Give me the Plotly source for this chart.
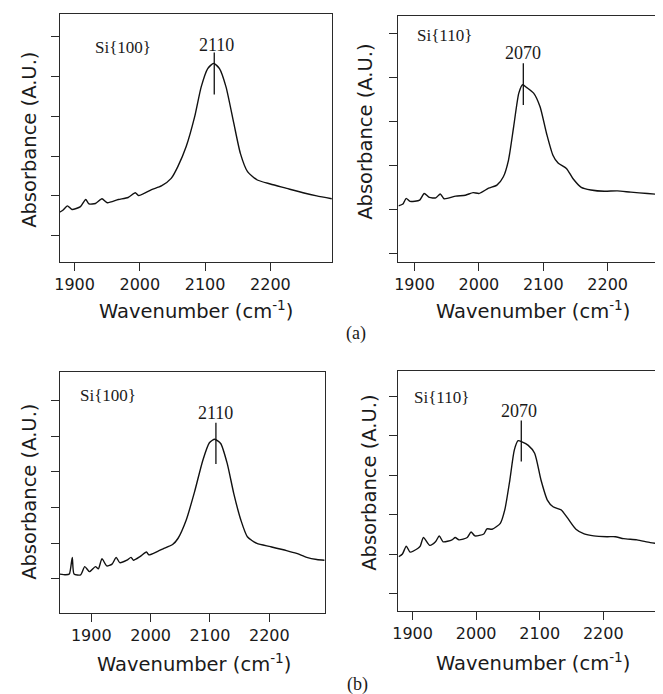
import plotly.graph_objects as go

# ---------------- data ----------------
tick_wavenumbers = [1900, 2000, 2100, 2200]
tick_absorbance = [0, 1, 2, 3, 4, 5]

# (a) Si{100}
a100_x = [1877, 1882, 1889, 1896, 1909, 1917, 1922, 1932, 1942, 1950, 1967, 1982, 1993, 1998,
          2018, 2033, 2048, 2058, 2071, 2084, 2094, 2104, 2113, 2122, 2132, 2144, 2154, 2165,
          2180, 2200, 2225, 2250, 2271, 2294]
a100_y = [0.59, 0.64, 0.75, 0.66, 0.73, 0.91, 0.80, 0.81, 0.93, 0.83, 0.91, 0.96, 1.08, 1.01,
          1.16, 1.25, 1.44, 1.73, 2.24, 2.99, 3.74, 4.20, 4.33, 4.20, 3.74, 2.82, 2.07, 1.61,
          1.40, 1.30, 1.19, 1.08, 1.00, 0.93]

# (a) Si{110}
a110_x = [1875, 1882, 1887, 1893, 1908, 1915, 1923, 1933, 1940, 1946, 1964, 1979, 1991, 2000,
          2015, 2028, 2038, 2046, 2054, 2062, 2068, 2074, 2085, 2095, 2105, 2115, 2123, 2136,
          2146, 2159, 2174, 2195, 2215, 2236, 2262, 2287]
a110_y = [1.08, 1.12, 1.25, 1.18, 1.21, 1.36, 1.27, 1.26, 1.35, 1.24, 1.30, 1.32, 1.38, 1.36,
          1.48, 1.55, 1.74, 2.12, 2.88, 3.64, 3.83, 3.77, 3.64, 3.33, 2.73, 2.23, 2.05, 1.93,
          1.70, 1.50, 1.44, 1.41, 1.42, 1.39, 1.36, 1.33]

# (b) Si{100}
b100_x = [1847, 1857, 1863, 1868, 1871, 1882, 1889, 1897, 1907, 1912, 1918, 1926, 1935, 1942,
          1948, 1960, 1967, 1971, 1982, 1993, 1997, 2012, 2021, 2037, 2046, 2060, 2074, 2088,
          2099, 2108, 2118, 2129, 2140, 2152, 2163, 2179, 2202, 2229, 2246, 2263, 2280, 2293]
b100_y = [0.13, 0.11, 0.13, 0.60, 0.13, 0.11, 0.34, 0.20, 0.34, 0.28, 0.56, 0.36, 0.41, 0.60,
          0.45, 0.52, 0.60, 0.52, 0.62, 0.75, 0.67, 0.77, 0.84, 0.96, 1.13, 1.65, 2.44, 3.33,
          3.82, 3.92, 3.80, 3.24, 2.40, 1.65, 1.18, 0.99, 0.90, 0.79, 0.71, 0.60, 0.54, 0.52]

# (b) Si{110}
b110_x = [1878, 1884, 1890, 1896, 1908, 1912, 1917, 1927, 1936, 1942, 1948, 1962, 1967, 1973,
          1986, 1992, 1998, 2012, 2017, 2025, 2038, 2045, 2053, 2060, 2066, 2072, 2082, 2092,
          2102, 2112, 2121, 2134, 2144, 2157, 2170, 2185, 2206, 2219, 2232, 2253, 2274, 2294]
b110_y = [0.93, 1.00, 1.20, 1.05, 1.14, 1.20, 1.42, 1.22, 1.31, 1.46, 1.31, 1.36, 1.42, 1.36,
          1.42, 1.56, 1.46, 1.51, 1.64, 1.63, 1.78, 2.12, 2.88, 3.64, 3.88, 3.85, 3.76, 3.56,
          2.88, 2.37, 2.20, 2.12, 1.91, 1.63, 1.51, 1.46, 1.44, 1.44, 1.39, 1.36, 1.29, 1.25]

# peak markers: wavenumber, marker bottom, marker top
peak_labels = ["2110", "2070", "2110", "2070"]
peak_x = [2114, 2069, 2110, 2071]
peak_lo = [3.55, 3.37, 3.22, 3.35]
peak_hi = [4.60, 4.32, 4.38, 4.39]
face_labels = ["Si{100}", "Si{110}", "Si{100}", "Si{110}"]
panel_labels = ["(a)", "(b)"]

# ---------------- layout geometry ----------------
# the page body adds an 8px margin, so the figure is drawn 8px smaller and shifted
OFF = 8
W, H = 663 - OFF, 694 - OFF
def px(x):
    return (x - OFF) / W
def py(y):
    return 1 - (y - OFF) / H

series = [(a100_x, a100_y), (a110_x, a110_y), (b100_x, b100_y), (b110_x, b110_y)]
boxes = [  # left, top, right, bottom in reference pixels
    (54, 14, 329, 262),
    (396, 15.7, 663, 261.7),
    (54, 372.3, 321.7, 612.7),
    (396, 371, 663, 610.7),
]
xranges = [[1877, 2294.5], [1875, 2286], [1846.6, 2293.5], [1877.7, 2294]]
yranges = [[-0.66, 5.57], [-0.19, 5.40], [-0.955, 5.80], [-0.44, 5.65]]
face_pos = [(1974, 4.72), (1946, 4.96), (1929, 5.16), (1945, 4.98)]
num_pos = [(2117, 4.79), (2068, 4.55), (2109, 4.67), (2068, 4.64)]

LINE = "#111111"
FRAME = "#2a2a2a"
TXT = "#1a1a1a"
SANS = "DejaVu Sans"
SERIF = "Liberation Serif"

fig = go.Figure()
annotations = []
for i, ((xs, ys), box) in enumerate(zip(series, boxes)):
    sfx = "" if i == 0 else str(i + 1)
    fig.add_trace(go.Scatter(x=xs, y=ys, mode="lines",
                             line=dict(color=LINE, width=1.4, shape="spline", smoothing=0.6),
                             xaxis="x" + sfx, yaxis="y" + sfx, showlegend=False,
                             hoverinfo="skip"))
    fig.add_trace(go.Scatter(x=[peak_x[i], peak_x[i]], y=[peak_lo[i], peak_hi[i]], mode="lines",
                             line=dict(color=LINE, width=1.3), xaxis="x" + sfx, yaxis="y" + sfx,
                             showlegend=False, hoverinfo="skip"))
    l, t, r, b = box
    left_panel = (i % 2 == 0)
    fig.update_layout(**{
        "xaxis" + sfx: dict(domain=[px(l), min(px(r), 1)], range=xranges[i], anchor="y" + sfx,
                            tickvals=tick_wavenumbers, ticks="outside", ticklen=8, tickwidth=1,
                            tickcolor=FRAME, showline=True, linecolor=FRAME, linewidth=1,
                            mirror=True, showgrid=False, zeroline=False,
                            tickfont=dict(family=SANS, size=16, color=TXT)),
        "yaxis" + sfx: dict(domain=[py(b), py(t)], range=yranges[i], anchor="x" + sfx,
                            tickvals=tick_absorbance, ticks="outside", ticklen=8, tickwidth=1,
                            tickcolor=FRAME, showticklabels=False, showline=True,
                            linecolor=FRAME, linewidth=1, mirror=left_panel,
                            showgrid=False, zeroline=False),
    })
    xr = "x" + sfx
    yr = "y" + sfx
    annotations.append(dict(x=face_pos[i][0], y=face_pos[i][1], xref=xr, yref=yr,
                            text=face_labels[i], showarrow=False,
                            font=dict(family=SERIF, size=17, color=TXT)))
    annotations.append(dict(x=num_pos[i][0], y=num_pos[i][1], xref=xr, yref=yr,
                            text=peak_labels[i], showarrow=False,
                            font=dict(family=SERIF, size=18, color=TXT)))

# axis titles as positioned text
xt_pos = [(191.7, 310), (532, 310), (190, 663), (532, 662)]
yt_pos = [(23, 140), (362, 132), (23, 492), (366, 483)]
for (xx, yy) in xt_pos:
    annotations.append(dict(x=px(xx), y=py(yy), xref="paper", yref="paper",
                            text="Wavenumber (cm<sup>-1</sup>)", showarrow=False,
                            xanchor="center", yanchor="middle",
                            font=dict(family=SANS, size=19.5, color=TXT)))
for (xx, yy) in yt_pos:
    annotations.append(dict(x=px(xx), y=py(yy), xref="paper", yref="paper",
                            text="Absorbance (A.U.)", showarrow=False, textangle=-90,
                            xanchor="center", yanchor="middle",
                            font=dict(family=SANS, size=19.5, color=TXT)))
for lab, (xx, yy) in zip(panel_labels, [(353, 333), (355, 684)]):
    annotations.append(dict(x=px(xx), y=py(yy), xref="paper", yref="paper", text=lab,
                            showarrow=False, xanchor="center", yanchor="middle",
                            font=dict(family=SERIF, size=18, color=TXT)))

fig.update_layout(width=W, height=H, margin=dict(l=0, r=0, t=0, b=0),
                  paper_bgcolor="white", plot_bgcolor="white",
                  annotations=annotations, showlegend=False)
fig.write_html("out.html")
